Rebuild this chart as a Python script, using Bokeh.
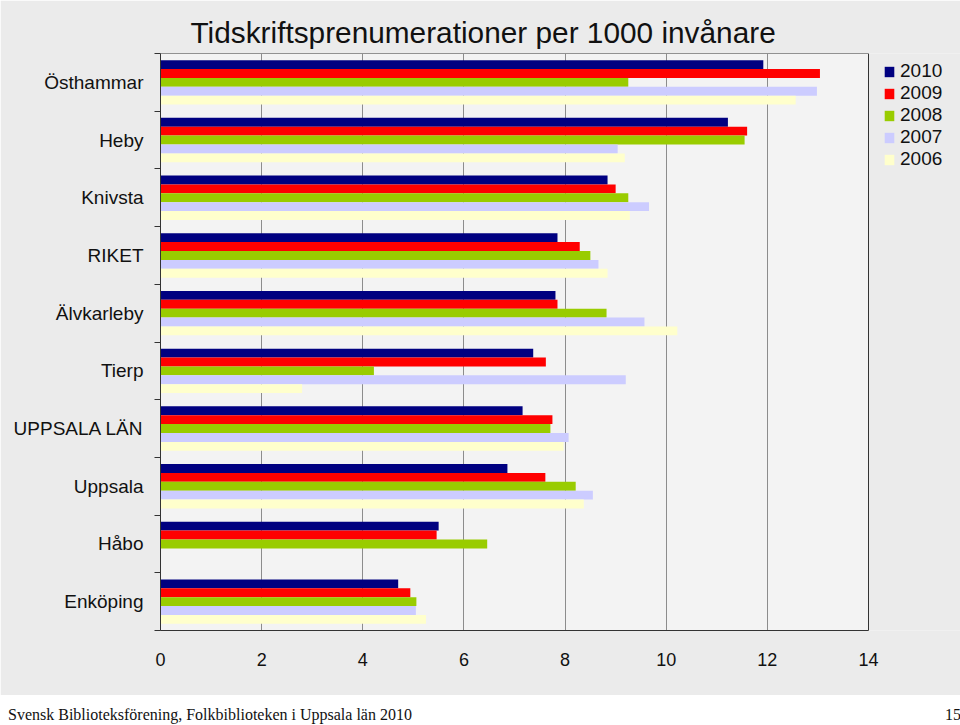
import numpy as np
from bokeh.plotting import figure
from bokeh.models import (Range1d, FixedTicker, Legend, LegendItem, ColumnDataSource,
                          CustomJSTickFormatter, Div)
from bokeh.layouts import column
from bokeh.embed import file_html
from bokeh.resources import INLINE

title_text = "Tidskriftsprenumerationer per 1000 invånare"
footer_text = "Svensk Biblioteksförening, Folkbiblioteken i Uppsala län 2010"
page_number = "15"

categories = ["Östhammar", "Heby", "Knivsta", "RIKET", "Älvkarleby", "Tierp",
              "UPPSALA LÄN", "Uppsala", "Håbo", "Enköping"]
years = ["2010", "2009", "2008", "2007", "2006"]
v2010 = [11.92, 11.22, 8.84, 7.85, 7.81, 7.37, 7.16, 6.86, 5.50, 4.70]
v2009 = [13.04, 11.60, 9.00, 8.29, 7.85, 7.62, 7.75, 7.61, 5.46, 4.94]
v2008 = [9.25, 11.55, 9.25, 8.50, 8.82, 4.22, 7.71, 8.21, 6.46, 5.06]
v2007 = [12.98, 9.04, 9.66, 8.66, 9.57, 9.20, 8.07, 8.55, None, 5.05]
v2006 = [12.56, 9.18, 9.28, 8.84, 10.22, 2.80, 7.97, 8.37, None, 5.25]
series = [v2010, v2009, v2008, v2007, v2006]
colors = ["#000080", "#ff0000", "#99cc00", "#ccccff", "#ffffcc"]
x_ticks = [0, 2, 4, 6, 8, 10, 12, 14]

FONT = "Liberation Sans"
W = 960
LEFT = 160          # frame left (px)
AXIS_RIGHT = 868    # pixel where the value axis ends (x = 14)
PAGE_BG = "#ebebeb"
PLOT_BG = "#f3f3f3"
DARK = "#333333"

# the frame extends to the right edge so the legend can sit beside the plot area
x_end = x_ticks[-1] * (W - LEFT) / (AXIS_RIGHT - LEFT)

p = figure(width=W, height=695, x_range=Range1d(x_ticks[0], x_end),
           y_range=Range1d(len(categories), 0),
           output_backend="svg", toolbar_location=None,
           min_border_left=LEFT, min_border_right=0, min_border_top=53, min_border_bottom=65)
p.border_fill_color = PAGE_BG
p.background_fill_color = PAGE_BG
p.outline_line_color = None

# plot-area box (0..14 by all categories)
p.quad(left=x_ticks[0], right=x_ticks[-1], top=0, bottom=len(categories),
       fill_color=PLOT_BG, line_color=DARK, line_width=1, level="image")

# title
p.title.text = title_text
p.title.align = "left"
p.title.offset = 30
p.title.standoff = 10
p.title.text_font = FONT
p.title.text_font_size = "29.8px"
p.title.text_font_style = "normal"
p.title.text_color = "#111111"

bar_h = 0.154
idx = np.arange(len(categories))
items = []
for k, (yr, vals, col) in enumerate(zip(years, series, colors)):
    arr = np.array([np.nan if v is None else v for v in vals], dtype=float)
    src = ColumnDataSource(dict(y=idx + 0.5 + (k - 2) * bar_h, right=arr))
    r = p.hbar(y="y", left=0, right="right", height=bar_h, source=src,
               fill_color=col, line_color=None)
    items.append(LegendItem(label=yr, renderers=[r]))

# grid
p.ygrid.visible = False
p.xgrid.ticker = FixedTicker(ticks=x_ticks[1:-1])
p.xgrid.grid_line_color = "#8c8c8c"
p.xgrid.grid_line_width = 1

# x axis
p.xaxis.ticker = FixedTicker(ticks=x_ticks)
p.xaxis.bounds = (x_ticks[0], x_ticks[-1])
p.xaxis.major_tick_out = 0
p.xaxis.major_tick_in = 0
p.xaxis.minor_tick_out = 0
p.xaxis.minor_tick_in = 0
p.xaxis.axis_line_color = DARK
p.xaxis.major_label_standoff = 22
p.xaxis.major_label_text_font = FONT
p.xaxis.major_label_text_font_size = "18px"
p.xaxis.major_label_text_color = "#111111"

# y axis: labels at category centres, ticks at boundaries
p.yaxis.ticker = FixedTicker(ticks=list(idx + 0.5), minor_ticks=list(range(len(categories) + 1)))
p.yaxis.formatter = CustomJSTickFormatter(args=dict(labels=categories),
                                          code="return labels[Math.floor(tick)] || '';")
p.yaxis.major_tick_out = 0
p.yaxis.major_tick_in = 0
p.yaxis.minor_tick_out = 6
p.yaxis.minor_tick_in = 0
p.yaxis.minor_tick_line_color = DARK
p.yaxis.axis_line_color = DARK
p.yaxis.major_label_standoff = 11
p.yaxis.major_label_text_font = FONT
p.yaxis.major_label_text_font_size = "19px"
p.yaxis.major_label_text_color = "#111111"

legend = Legend(items=items, location=(723, 460), orientation="vertical",
                padding=0, margin=0, spacing=0, glyph_width=12, glyph_height=13,
                label_height=20, label_standoff=5,
                label_text_font=FONT, label_text_font_size="19px", label_text_color="#111111",
                border_line_alpha=0, background_fill_alpha=0)
p.add_layout(legend, "center")

footer = Div(
    text=("<div style='display:flex;justify-content:space-between;width:%dpx;"
          "box-sizing:border-box;padding:0 4px 0 3px;'>"
          "<span>%s</span><span>%s</span></div>") % (W, footer_text, page_number),
    width=W, height=30,
    styles={"font-family": "Liberation Serif", "font-size": "16px", "color": "#111111",
            "background-color": "white", "line-height": "30px"})

layout = column(p, footer, spacing=0)
open("out.html", "w").write(file_html(layout, INLINE))
